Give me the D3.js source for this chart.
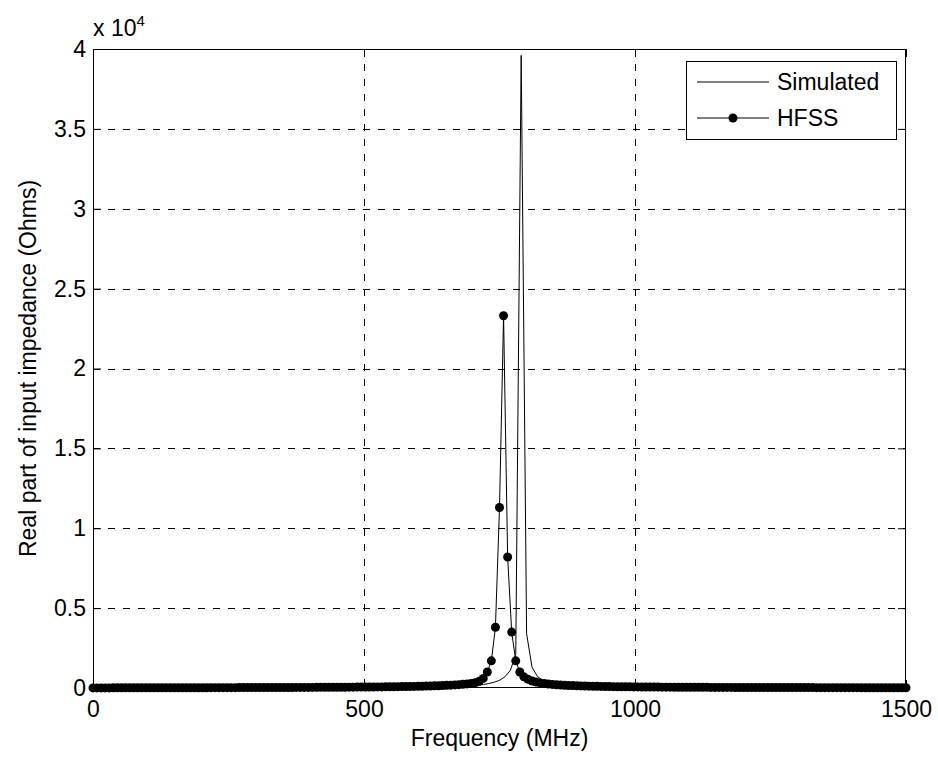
<!DOCTYPE html>
<html><head><meta charset="utf-8">
<script src="https://cdn.jsdelivr.net/npm/d3@7"></script>
<style>
body{margin:0;background:#fff}
text{font-family:Arial,"Liberation Sans",Helvetica,sans-serif;fill:#000}
</style>
</head><body>
<svg id="c" width="938" height="758"></svg>
<script>
// ---- data ----
const simFreq = [0,10,20,30,40,50,60,70,80,90,100,110,120,130,140,150,160,170,180,190,200,210,220,230,240,250,260,270,280,290,300,310,320,330,340,350,360,370,380,390,400,410,420,430,440,450,460,470,480,490,500,510,520,530,540,550,560,570,580,590,600,610,620,630,640,650,660,670,680,690,700,710,720,730,740,750,760,770,780,790,800,810,820,830,840,850,860,870,880,890,900,910,920,930,940,950,960,970,980,990,1000,1010,1020,1030,1040,1050,1060,1070,1080,1090,1100,1110,1120,1130,1140,1150,1160,1170,1180,1190,1200,1210,1220,1230,1240,1250,1260,1270,1280,1290,1300,1310,1320,1330,1340,1350,1360,1370,1380,1390,1400,1410,1420,1430,1440,1450,1460,1470,1480,1490,1500];
const simValues = [0,1,1,1,1,2,2,2,2,2,
 3,3,3,3,4,4,4,4,5,5,
 5,5,6,6,6,6,7,7,7,8,
 8,8,9,9,9,10,10,11,11,12,
 12,13,13,14,15,15,16,17,18,19,
 20,21,22,24,25,27,29,31,34,37,
 40,44,49,55,62,70,80,93,108,127,
 150,180,220,280,360,480,700,1100,2100,39600,
 3400,1300,720,470,340,260,210,175,150,130,
 115,103,93,85,78,72,67,62,58,55,
 52,49,46,44,42,40,38,36,35,33,
 32,31,30,29,28,27,26,25,24,24,
 23,22,22,21,20,20,19,19,18,18,
 17,17,16,16,16,15,15,14,14,14,
 13,13,13,12,12,12,12,11,11,11,
 11];
const hfssFreq = [0,7.5,15,22.5,30,37.5,45,52.5,60,67.5,75,82.5,90,97.5,105,112.5,120,127.5,135,142.5,150,157.5,165,172.5,180,187.5,195,202.5,210,217.5,225,232.5,240,247.5,255,262.5,270,277.5,285,292.5,300,307.5,315,322.5,330,337.5,345,352.5,360,367.5,375,382.5,390,397.5,405,412.5,420,427.5,435,442.5,450,457.5,465,472.5,480,487.5,495,502.5,510,517.5,525,532.5,540,547.5,555,562.5,570,577.5,585,592.5,600,607.5,615,622.5,630,637.5,645,652.5,660,667.5,675,682.5,690,697.5,705,712.5,720,727.5,735,742.5,750,757.5,765,772.5,780,787.5,795,802.5,810,817.5,825,832.5,840,847.5,855,862.5,870,877.5,885,892.5,900,907.5,915,922.5,930,937.5,945,952.5,960,967.5,975,982.5,990,997.5,1005,1012.5,1020,1027.5,1035,1042.5,1050,1057.5,1065,1072.5,1080,1087.5,1095,1102.5,1110,1117.5,1125,1132.5,1140,1147.5,1155,1162.5,1170,1177.5,1185,1192.5,1200,1207.5,1215,1222.5,1230,1237.5,1245,1252.5,1260,1267.5,1275,1282.5,1290,1297.5,1305,1312.5,1320,1327.5,1335,1342.5,1350,1357.5,1365,1372.5,1380,1387.5,1395,1402.5,1410,1417.5,1425,1432.5,1440,1447.5,1455,1462.5,1470,1477.5,1485,1492.5,1500];
const hfssValues = [5,6,6,7,7,8,8,9,9,10,
 10,11,11,12,12,13,13,14,14,15,
 15,16,16,17,17,18,18,19,19,20,
 20,21,21,22,22,23,24,24,25,26,
 26,27,28,29,29,30,31,32,33,34,
 35,36,37,38,39,40,42,43,44,46,
 47,49,50,52,54,56,58,60,62,65,
 67,70,73,76,79,83,87,91,96,101,
 106,112,119,126,134,143,153,165,178,193,
 211,232,257,288,330,420,600,1000,1700,3800,
 11300,23300,8200,3500,1700,1000,700,540,440,370,
 320,280,250,225,205,188,173,160,149,139,
 130,122,115,109,103,98,93,89,85,81,
 78,75,72,69,67,64,62,60,58,56,
 54,52,51,49,48,46,45,44,43,42,
 41,40,39,38,37,36,35,35,34,33,
 32,32,31,30,30,29,29,28,28,27,
 27,26,26,25,25,24,24,24,23,23,
 22,22,22,21,21,21,20,20,20,19,
 19,19,19,18,18,18,18,17,17,17,
 17];
const xTicks = [0,500,1000,1500];
const xTickLabels = ["0","500","1000","1500"];
const yTicks = [0,5000,10000,15000,20000,25000,30000,35000,40000];
const yTickLabels = ["0","0.5","1","1.5","2","2.5","3","3.5","4"];
const seriesNames = ["Simulated","HFSS"];

// ---- layout ----
const W = 938, H = 758;
const L = 93, R = 906, T = 49, B = 688;
const FS = 23;
const svg = d3.select("#c");
svg.append("rect").attr("width",W).attr("height",H).attr("fill","#fff");

const x = d3.scaleLinear().domain([0,1500]).range([L,R]);
const y = d3.scaleLinear().domain([0,40000]).range([B,T]);

// grid
const grid = svg.append("g").attr("stroke","#000").attr("stroke-width",1).attr("stroke-dasharray","7,8").attr("shape-rendering","crispEdges");
grid.selectAll(".gx").data(xTicks.slice(1,-1)).enter().append("line")
  .attr("x1",d=>Math.round(x(d))+0.5).attr("x2",d=>Math.round(x(d))+0.5).attr("y1",T).attr("y2",B);
grid.selectAll(".gy").data(yTicks.slice(1,-1)).enter().append("line")
  .attr("y1",d=>Math.round(y(d))+0.5).attr("y2",d=>Math.round(y(d))+0.5).attr("x1",L).attr("x2",R);

// series
const sim = simFreq.map((f,i)=>({f, v:simValues[i]}));
const hf = hfssFreq.map((f,i)=>({f, v:hfssValues[i]}));
const line = d3.line().x(d=>x(d.f)).y(d=>y(d.v));
svg.append("path").datum(sim).attr("d",line).attr("fill","none").attr("stroke","#000").attr("stroke-width",1);
svg.append("path").datum(hf).attr("d",line).attr("fill","none").attr("stroke","#000").attr("stroke-width",1);
svg.append("g").selectAll("circle").data(hf).enter().append("circle")
  .attr("cx",d=>x(d.f)).attr("cy",d=>y(d.v)).attr("r",4.5).attr("fill","#000");

// axes
function styleAxis(g){
  g.select(".domain").remove();
  g.selectAll(".tick line").attr("stroke","#000");
  g.selectAll(".tick text").attr("font-size",FS).attr("font-family",'Arial,"Liberation Sans",sans-serif').attr("fill","#000");
}
svg.append("g").attr("transform",`translate(0,${B})`)
  .call(d3.axisBottom(x).tickValues(xTicks).tickFormat((d,i)=>xTickLabels[i]).tickSize(-8).tickPadding(13)).call(styleAxis);
svg.append("g").attr("transform",`translate(0,${T})`)
  .call(d3.axisTop(x).tickValues(xTicks).tickFormat("").tickSize(-8)).call(styleAxis);
svg.append("g").attr("transform",`translate(${L},0)`)
  .call(d3.axisLeft(y).tickValues(yTicks).tickFormat((d,i)=>yTickLabels[i]).tickSize(-8).tickPadding(7)).call(styleAxis);
svg.append("g").attr("transform",`translate(${R},0)`)
  .call(d3.axisRight(y).tickValues(yTicks).tickFormat("").tickSize(-8)).call(styleAxis);

// box
svg.append("rect").attr("x",L+0.5).attr("y",T+0.5).attr("width",R-L-1).attr("height",B-T-1)
  .attr("fill","none").attr("stroke","#000").attr("stroke-width",1);

// exponent
const ex = svg.append("text").attr("x",L).attr("y",36).attr("font-size",FS);
ex.append("tspan").text("x 10");
ex.append("tspan").attr("dy",-10).attr("font-size",15).text("4");

// axis labels
svg.append("text").attr("x",(L+R)/2).attr("y",746).attr("text-anchor","middle").attr("font-size",FS).text("Frequency (MHz)");
svg.append("text").attr("transform",`translate(36,${(T+B)/2}) rotate(-90)`).attr("text-anchor","middle").attr("font-size",FS).text("Real part of input impedance (Ohms)");

// legend
const lg = svg.append("g");
lg.append("rect").attr("x",686.5).attr("y",61.5).attr("width",210).attr("height",78).attr("fill","#fff").attr("stroke","#000");
const ly = [82,118];
seriesNames.forEach((n,i)=>{
  lg.append("line").attr("x1",697).attr("x2",769).attr("y1",ly[i]).attr("y2",ly[i]).attr("stroke","#000");
  if(i===1) lg.append("circle").attr("cx",733).attr("cy",ly[i]).attr("r",4.5).attr("fill","#000");
  lg.append("text").attr("x",777).attr("y",ly[i]).attr("dy","0.36em").attr("font-size",FS).text(n);
});
</script>
</body></html>
